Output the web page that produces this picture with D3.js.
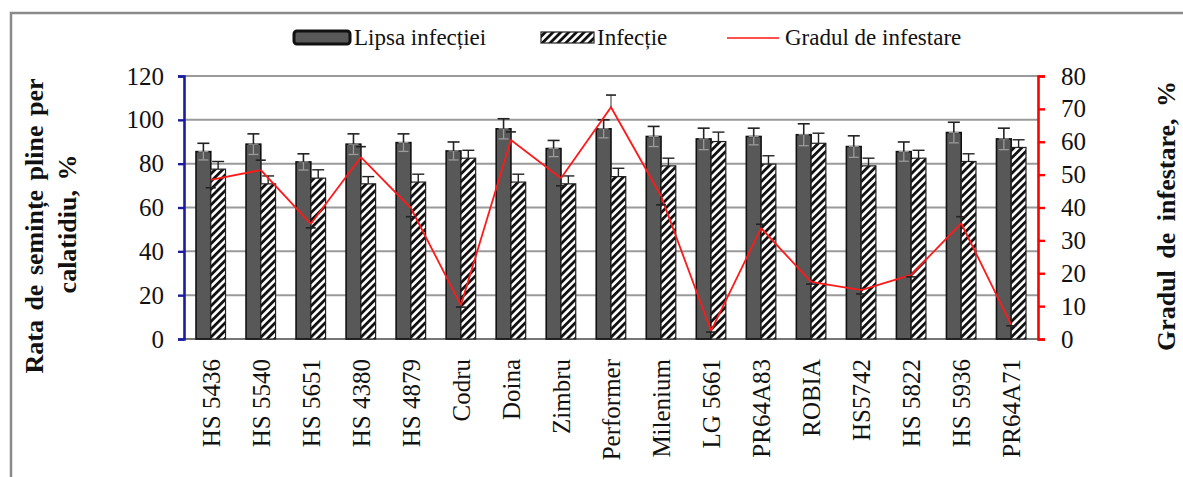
<!DOCTYPE html>
<html>
<head>
<meta charset="utf-8">
<script src="https://cdn.jsdelivr.net/npm/d3@7"></script>
<style>
  html, body { margin: 0; padding: 0; background: #fff; }
  svg text { font-family: "Liberation Serif", "Times New Roman", serif; fill: #111; }
</style>
</head>
<body>
<svg id="chart" width="1183" height="477"></svg>
<script>
// Sunflower hybrids
const categories = ["HS 5436", "HS 5540", "HS 5651", "HS 4380", "HS 4879", "Codru", "Doina", "Zimbru",
  "Performer", "Milenium", "LG 5661", "PR64A83", "ROBIA", "HS5742", "HS 5822", "HS 5936", "PR64A71"];

// Rate of filled seeds per head, % (left axis)
const noInfection    = [85.5, 88.9, 80.8, 88.9, 89.6, 85.8, 95.9, 86.9, 95.9, 92.4, 91.3, 92.4, 93.2, 87.8, 85.5, 94.2, 91.3];
const noInfectionErr = [3.8, 4.7, 3.7, 4.7, 4.0, 4.1, 4.6, 3.7, 4.1, 4.6, 4.9, 3.8, 5.0, 4.9, 4.4, 4.7, 4.9];
const infection      = [77.5, 70.8, 73.4, 70.8, 71.6, 82.5, 71.6, 70.8, 74.1, 79.0, 90.1, 79.8, 89.3, 79.0, 82.5, 81.0, 87.4];
const infectionErr   = [3.5, 3.6, 3.8, 3.3, 3.6, 3.6, 3.6, 3.6, 3.8, 3.5, 4.3, 3.8, 4.6, 3.5, 3.6, 3.5, 3.5];

// Degree of infestation, % (right axis); error is signed (drawn up or down)
const infestation    = [48.4, 51.4, 35.0, 55.3, 39.8, 10.3, 60.5, 48.9, 70.5, 43.5, 2.5, 33.7, 17.4, 14.9, 19.5, 35.2, 4.3];
const infestationErr = [-2.4, 3.0, -1.2, 3.2, -2.6, -0.6, 2.5, -2.3, 3.7, -2.7, -0.4, 1.2, -0.7, -1.2, -0.6, 2.0, -0.3];

const leftTicks  = [0, 20, 40, 60, 80, 100, 120];
const rightTicks = [0, 10, 20, 30, 40, 50, 60, 70, 80];

const seriesNames = ["Lipsa infecției", "Infecție", "Gradul de infestare"];

const svg = d3.select("#chart");
const plot = { left: 184, right: 1038, top: 76, bottom: 339 };

// frame
svg.append("path")
  .attr("d", `M11,477 V13 H1183`)
  .attr("fill", "none").attr("stroke", "#8a8a8a").attr("stroke-width", 2.5);

// hatch pattern
const defs = svg.append("defs");
const pat = defs.append("pattern")
  .attr("id", "hatch").attr("patternUnits", "userSpaceOnUse")
  .attr("width", 5.5).attr("height", 5.5)
  .attr("patternTransform", "rotate(45)");
pat.append("rect").attr("width", 5.5).attr("height", 5.5).attr("fill", "#fff");
pat.append("rect").attr("x", 0).attr("width", 2.8).attr("height", 5.5).attr("fill", "#111");

const x0 = d3.scaleBand().domain(categories).range([plot.left, plot.right])
  .paddingInner(0.41).paddingOuter(0.24);
const x1 = d3.scaleBand().domain([0, 1]).range([0, x0.bandwidth()]);
const yL = d3.scaleLinear().domain([0, 120]).range([plot.bottom, plot.top]);
const yR = d3.scaleLinear().domain([0, 80]).range([plot.bottom, plot.top]);

// gridlines
svg.append("g").selectAll("line").data(leftTicks.filter(d => d > 0)).join("line")
  .attr("x1", plot.left).attr("x2", plot.right)
  .attr("y1", d => yL(d)).attr("y2", d => yL(d))
  .attr("stroke", "#9a9a9a").attr("stroke-width", 2);

// baseline
svg.append("line")
  .attr("x1", plot.left).attr("x2", plot.right)
  .attr("y1", plot.bottom).attr("y2", plot.bottom)
  .attr("stroke", "#777").attr("stroke-width", 2);

// bars
const groups = svg.append("g").selectAll("g").data(categories).join("g")
  .attr("transform", d => `translate(${x0(d)},0)`);

groups.append("rect")
  .attr("x", x1(0)).attr("width", x1.bandwidth())
  .attr("y", (d, i) => yL(noInfection[i]))
  .attr("height", (d, i) => yL(0) - yL(noInfection[i]))
  .attr("fill", "#585858").attr("stroke", "#111").attr("stroke-width", 1.6);

groups.append("rect")
  .attr("x", x1(1)).attr("width", x1.bandwidth())
  .attr("y", (d, i) => yL(infection[i]))
  .attr("height", (d, i) => yL(0) - yL(infection[i]))
  .attr("fill", "url(#hatch)").attr("stroke", "#222").attr("stroke-width", 1.2);

// error bars on the columns
function errorBar(g, cx, yTop, yBot, cap, color, w) {
  g.append("line").attr("x1", cx).attr("x2", cx).attr("y1", yTop).attr("y2", yBot)
    .attr("stroke", color).attr("stroke-width", w);
  g.append("line").attr("x1", cx - cap).attr("x2", cx + cap).attr("y1", yTop).attr("y2", yTop)
    .attr("stroke", color).attr("stroke-width", w);
  g.append("line").attr("x1", cx - cap).attr("x2", cx + cap).attr("y1", yBot).attr("y2", yBot)
    .attr("stroke", color).attr("stroke-width", w);
}
groups.each(function (d, i) {
  const g = d3.select(this);
  const cx0 = x1(0) + x1.bandwidth() / 2;
  const cx1 = x1(1) + x1.bandwidth() / 2;
  // inner part of error bar over the dark bar shows lighter
  errorBar(g, cx0, yL(noInfection[i]), yL(noInfection[i] - noInfectionErr[i]), 5, "#9a9a9a", 1.3);
  g.append("line").attr("x1", cx0).attr("x2", cx0)
    .attr("y1", yL(noInfection[i] + noInfectionErr[i])).attr("y2", yL(noInfection[i]))
    .attr("stroke", "#222").attr("stroke-width", 1.6);
  g.append("line").attr("x1", cx0 - 6).attr("x2", cx0 + 6)
    .attr("y1", yL(noInfection[i] + noInfectionErr[i])).attr("y2", yL(noInfection[i] + noInfectionErr[i]))
    .attr("stroke", "#222").attr("stroke-width", 1.6);
  g.append("line").attr("x1", cx1).attr("x2", cx1)
    .attr("y1", yL(infection[i] + infectionErr[i])).attr("y2", yL(infection[i]))
    .attr("stroke", "#222").attr("stroke-width", 1.4);
  g.append("line").attr("x1", cx1 - 6).attr("x2", cx1 + 6)
    .attr("y1", yL(infection[i] + infectionErr[i])).attr("y2", yL(infection[i] + infectionErr[i]))
    .attr("stroke", "#222").attr("stroke-width", 1.4);
});

// infestation line
const cxLine = (d) => x0(d) + x0.bandwidth() / 2;
const line = d3.line().x((d, i) => cxLine(categories[i])).y(d => yR(d));
svg.append("path").datum(infestation)
  .attr("d", line).attr("fill", "none")
  .attr("stroke", "#ff1a1a").attr("stroke-width", 1.8).attr("stroke-linejoin", "miter");

// infestation error marks
const lineErr = svg.append("g");
infestation.forEach((v, i) => {
  const cx = cxLine(categories[i]);
  const yEnd = yR(v + infestationErr[i]);
  lineErr.append("line").attr("x1", cx).attr("x2", cx).attr("y1", yR(v)).attr("y2", yEnd)
    .attr("stroke", "#333").attr("stroke-width", 1);
  lineErr.append("line").attr("x1", cx - 5).attr("x2", cx + 5).attr("y1", yEnd).attr("y2", yEnd)
    .attr("stroke", "#222").attr("stroke-width", 1.6);
});

// left axis
const axL = svg.append("g").attr("transform", `translate(${plot.left},0)`)
  .call(d3.axisLeft(yL).tickValues(leftTicks).tickSize(6).tickPadding(14));
axL.select(".domain").attr("stroke", "#1c1ca0").attr("stroke-width", 2.6);
axL.selectAll(".tick line").attr("stroke", "#1c1ca0").attr("stroke-width", 2.4);
axL.selectAll(".tick text")
  .style("font-family", '"Liberation Serif", serif').style("font-size", "25px").attr("fill", "#1a1a2a");

// right axis
const axR = svg.append("g").attr("transform", `translate(${plot.right},0)`)
  .call(d3.axisRight(yR).tickValues(rightTicks).tickSize(7).tickPadding(16));
axR.select(".domain").attr("stroke", "#ff0000").attr("stroke-width", 2.6);
axR.selectAll(".tick line").attr("stroke", "#ff0000").attr("stroke-width", 2.4);
axR.selectAll(".tick text")
  .style("font-family", '"Liberation Serif", serif').style("font-size", "25px").attr("fill", "#1a1a2a");

// category labels
svg.append("g").selectAll("text").data(categories).join("text")
  .attr("transform", d => `translate(${cxLine(d)},359) rotate(-90)`)
  .attr("text-anchor", "end").attr("dy", "0.35em")
  .style("font-size", "25px")
  .text(d => d);

// axis titles
svg.append("text")
  .attr("transform", "translate(43,226) rotate(-90)")
  .attr("text-anchor", "middle")
  .style("font-size", "26px").style("font-weight", "bold").style("word-spacing", "3px")
  .text("Rata de semințe pline per");
svg.append("text")
  .attr("transform", "translate(76,224) rotate(-90)")
  .attr("text-anchor", "middle")
  .style("font-size", "26px").style("font-weight", "bold").style("word-spacing", "3px")
  .text("calatidiu, %");
svg.append("text")
  .attr("transform", "translate(1175,216) rotate(-90)")
  .attr("text-anchor", "middle")
  .style("font-size", "26px").style("font-weight", "bold").style("word-spacing", "5px")
  .text("Gradul de infestare, %");

// legend
const leg = svg.append("g");
leg.append("rect").attr("x", 294).attr("y", 31).attr("width", 56).attr("height", 13).attr("rx", 3)
  .attr("fill", "#585858").attr("stroke", "#111").attr("stroke-width", 3);
leg.append("text").attr("x", 354).attr("y", 45).style("font-size", "23px").text(seriesNames[0]);
leg.append("rect").attr("x", 541).attr("y", 32).attr("width", 53).attr("height", 11)
  .attr("fill", "url(#hatch)").attr("stroke", "#222").attr("stroke-width", 1.2);
leg.append("text").attr("x", 597).attr("y", 45).style("font-size", "23px").text(seriesNames[1]);
leg.append("line").attr("x1", 727).attr("x2", 779).attr("y1", 38).attr("y2", 38)
  .attr("stroke", "#ff5050").attr("stroke-width", 2.2);
leg.append("text").attr("x", 785).attr("y", 45).style("font-size", "23px").text(seriesNames[2]);
</script>
</body>
</html>
